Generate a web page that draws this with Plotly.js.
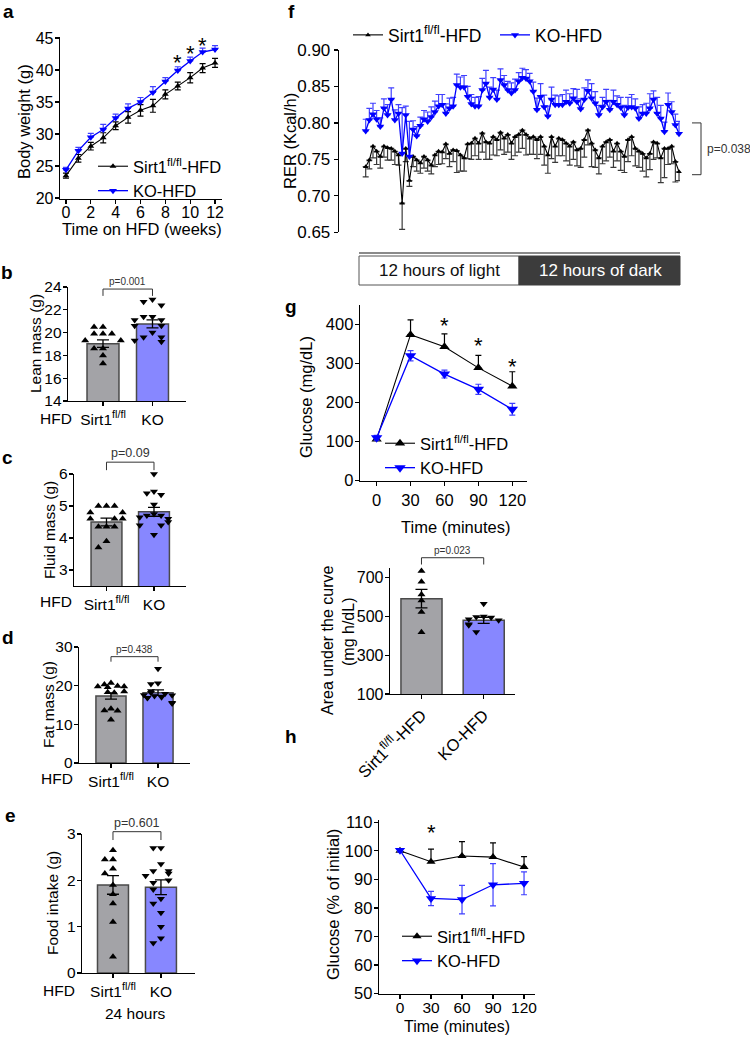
<!DOCTYPE html>
<html><head><meta charset="utf-8">
<script src="https://cdn.plot.ly/plotly-3.0.1.min.js"></script>
<style>html,body{margin:0;padding:0;background:#fff}#chart{width:750px;height:1040px}</style>
</head><body><div id="chart"></div>
<script>
// ================= DATA =================
// a: body weight
const weeks = [0,1,2,3,4,5,6,7,8,9,10,11,12];
const bwSirt1 = [23.5,26.2,28.1,29.4,31.3,32.6,33.7,34.4,36.2,37.5,38.8,40.3,41.1];
const bwSirt1Err = [0.4,0.6,0.6,0.8,0.6,0.9,0.9,1.0,0.7,0.6,0.8,0.7,0.7];
const bwKO = [24.4,27.4,29.5,30.7,32.5,34.0,35.0,36.5,38.2,39.9,41.4,42.8,43.2];
const bwKOErr = [0.4,0.5,0.6,0.8,0.6,0.7,0.7,0.9,0.6,0.6,0.6,0.6,0.6];
const bwStarWeeks = [9,10,11];
const bwStarY = [41.6,43.0,44.3];

// b: lean mass
const leanMean = [19.03,20.76];
const leanSem = [0.33,0.35];
const leanSirt1 = [20.5,20.5,19.9,19.9,19.9,19.3,19.3,18.6,18.6,18.0,17.3];
const leanKO = [22.9,22.7,22.4,21.4,21.4,21.1,21.1,20.6,20.6,20.0,19.6,19.6,19.2,19.3];

// c: fluid mass
const fluidMean = [4.5,4.82];
const fluidSem = [0.12,0.14];
const fluidSirt1 = [5.0,5.0,5.0,4.8,4.8,4.6,4.6,4.6,4.35,4.35,4.35,3.9,3.7];
const fluidKO = [6.0,5.45,5.4,5.35,5.05,4.75,4.7,4.7,4.65,4.6,4.5,4.4,4.4,4.1];

// d: fat mass
const fatMean = [17.3,18.2];
const fatSem = [0.8,0.7];
const fatSirt1 = [20.7,20.3,19.9,19.8,19.8,19.6,18.5,18.3,18.2,14.0,13.6,13.5,11.2];
const fatKO = [24.4,20.6,20.4,18.6,18.2,17.9,17.6,17.5,17.3,17.0,16.9,16.8,15.6,15.4];

// e: food intake
const foodMean = [1.9,1.85];
const foodSem = [0.2,0.16];
const foodSirt1 = [2.65,2.45,2.45,2.25,2.15,1.9,1.7,1.5,1.1,0.35];
const foodKO = [2.7,2.7,2.35,2.2,2.2,2.15,2.1,2.0,1.95,1.8,1.6,1.5,1.3,1.0,0.75,0.65];

const groupTicks = ['Sirt1<sup>fl/fl</sup>','KO'];

// f: RER over 24 h
const rerKO = [0.789,0.804,0.812,0.805,0.795,0.820,0.811,0.832,0.804,0.813,
  0.758,0.811,0.754,0.791,0.782,0.796,0.805,0.802,0.808,0.815,
  0.823,0.825,0.813,0.820,0.823,0.852,0.849,0.849,0.836,0.826,
  0.823,0.823,0.845,0.854,0.835,0.846,0.832,0.859,
  0.852,0.845,0.841,0.845,0.857,0.862,0.861,0.857,0.843,0.818,
  0.836,0.822,0.809,0.832,0.825,0.825,0.825,0.829,0.827,0.834,
  0.829,0.819,0.832,0.844,0.834,0.827,0.811,0.822,0.829,0.818,
  0.829,0.825,0.821,0.811,0.821,0.822,0.820,0.806,0.813,0.813,
  0.820,0.832,0.813,0.806,0.788,0.825,0.815,0.797,0.785];
const rerKOErr = [0.016,0.016,0.015,0.012,0.012,0.013,0.014,0.016,0.014,0.012,
  0.063,0.012,0.048,0.012,0.013,0.012,0.012,0.013,0.014,0.015,
  0.016,0.014,0.013,0.014,0.012,0.015,0.014,0.016,0.014,0.013,
  0.012,0.013,0.016,0.018,0.014,0.016,0.013,0.015,
  0.013,0.012,0.014,0.015,0.012,0.013,0.012,0.011,0.013,0.016,
  0.018,0.016,0.014,0.017,0.013,0.012,0.014,0.016,0.013,0.013,
  0.017,0.014,0.016,0.015,0.020,0.016,0.013,0.013,0.017,0.013,
  0.016,0.012,0.014,0.013,0.014,0.017,0.013,0.016,0.012,0.014,
  0.020,0.012,0.022,0.018,0.013,0.016,0.014,0.015,0.017];
const rerSirt1 = [0.740,0.749,0.768,0.761,0.754,0.768,0.766,0.765,0.761,0.756,
  0.690,0.765,0.721,0.754,0.749,0.745,0.754,0.749,0.742,0.756,
  0.761,0.760,0.771,0.758,0.763,0.762,0.756,0.752,0.771,0.772,
  0.779,0.772,0.786,0.774,0.772,0.781,0.777,0.787,
  0.779,0.784,0.772,0.781,0.784,0.790,0.784,0.779,0.781,0.777,
  0.781,0.768,0.756,0.781,0.768,0.779,0.777,0.772,0.768,0.774,
  0.763,0.765,0.777,0.790,0.772,0.763,0.752,0.768,0.774,0.777,
  0.761,0.772,0.761,0.754,0.777,0.781,0.765,0.761,0.758,0.752,
  0.758,0.774,0.772,0.752,0.765,0.765,0.768,0.747,0.733];
const rerSirt1Err = [0.014,0.012,0.016,0.018,0.016,0.015,0.017,0.016,0.018,0.014,
  0.036,0.018,0.008,0.014,0.015,0.014,0.016,0.015,0.012,0.016,
  0.018,0.016,0.020,0.018,0.016,0.030,0.022,0.018,0.020,0.022,
  0.024,0.022,0.026,0.024,0.022,0.025,0.022,0.024,
  0.022,0.024,0.022,0.026,0.024,0.025,0.028,0.022,0.024,0.026,
  0.024,0.026,0.025,0.030,0.022,0.024,0.022,0.024,0.026,0.024,
  0.022,0.026,0.024,0.020,0.032,0.024,0.022,0.024,0.026,0.024,
  0.022,0.024,0.026,0.022,0.030,0.026,0.024,0.022,0.024,0.026,
  0.022,0.024,0.020,0.034,0.040,0.022,0.024,0.028,0.012];
const rerSample = rerKO.map((_, i) => i);

// g: glucose tolerance test
const gttTime = [0,30,60,90,120];
const gttSirt1 = [106,374,343,289,242];
const gttSirt1Err = [5,38,33,32,37];
const gttKO = [110,320,273,234,183];
const gttKOErr = [6,13,10,13,15];
const gttStarTime = [60,90,120];
const gttStarY = [404,354,301];

// g (lower): area under the curve
const aucMean = [592,480];
const aucSem = [48,16];
const aucSirt1 = [734,679,613,582,523,418];
const aucKO = [565,500,497,495,485,480,460,455,420];
const aucTicks = ['Sirt1<sup>fl/fl</sup>-HFD','KO-HFD'];

// h: insulin tolerance test
const ittTime = [0,30,60,90,120];
const ittSirt1 = [100,96.2,98.2,97.8,94.3];
const ittSirt1Err = [0.5,4.4,5.0,5.0,3.7];
const ittKO = [100.2,83.3,82.9,88.1,88.6];
const ittKOErr = [0.6,2.5,5.0,7.4,4.0];
const ittStarTime = [30];
const ittStarY = [107.6];

const nameSirt1 = 'Sirt1<sup>fl/fl</sup>-HFD';
const nameKO = 'KO-HFD';

// ================= LAYOUT GEOMETRY (pixels) =================
const W = 750, H = 1040;
const FONT = 'Arial, "Liberation Sans", Helvetica, sans-serif';
const BLUE = '#0000ff', BLUE_ERR = '#4040ff', GREY_BAR = '#a3a3a7', KO_BAR = '#8787ff';
const AX = {
  a:  {id:['x','y'],   px:[60,222],  xr:[-0.48,12.56], py:[37,199],   yr:[19.85,45.15]},
  b:  {id:['x2','y2'], px:[68,186],  xr:[-0.707,1.677], py:[287,401], yr:[14,24]},
  c:  {id:['x3','y3'], px:[74,186],  xr:[-0.684,1.674], py:[474,586], yr:[2.5,6]},
  d:  {id:['x4','y4'], px:[79,190],  xr:[-0.68,1.68],  py:[647,763],  yr:[0,30]},
  e:  {id:['x5','y5'], px:[82,195],  xr:[-0.646,1.71], py:[834,973],  yr:[0,3]},
  f:  {id:['x6','y6'], px:[339,680], xr:[-7.33,86.27], py:[50,232.3], yr:[0.65,0.90]},
  g:  {id:['x7','y7'], px:[360,527], xr:[-14.7,133],   py:[305,480.7],yr:[0,450]},
  g2: {id:['x8','y8'], px:[390,515], xr:[-0.506,1.503],py:[568,694],  yr:[100,750]},
  h:  {id:['x9','y9'], px:[379,535], xr:[-20.3,130.6], py:[820,993.5],yr:[50,110.8]}
};
const PXx = p => p / W, PYy = p => 1 - p / H;
function xPaper(p, v){ const a = AX[p]; return PXx(a.px[0] + (v - a.xr[0]) / (a.xr[1] - a.xr[0]) * (a.px[1] - a.px[0])); }
function yPaper(p, v){ const a = AX[p]; return PYy(a.py[0] + (a.yr[1] - v) / (a.yr[1] - a.yr[0]) * (a.py[1] - a.py[0])); }
function axKey(id){ return (id[0] === 'x' ? 'xaxis' : 'yaxis') + id.slice(1); }

function baseAxis(extra){
  return Object.assign({showline:true, linecolor:'#000', linewidth:1.3, ticks:'outside', ticklen:4,
    tickwidth:1.3, tickcolor:'#000', showgrid:false, zeroline:false, fixedrange:true,
    tickfont:{family:FONT, size:15, color:'#000'}}, extra);
}

const layout = {
  width:W, height:H, margin:{l:0,r:0,t:0,b:0}, paper_bgcolor:'#fff', plot_bgcolor:'rgba(0,0,0,0)',
  font:{family:FONT, color:'#000'}, showlegend:true, shapes:[], annotations:[]
};

function setAxes(p, xextra, yextra){
  const a = AX[p];
  layout[axKey(a.id[0])] = baseAxis(Object.assign({domain:[PXx(a.px[0]), PXx(a.px[1])], range:a.xr, anchor:a.id[1]}, xextra));
  layout[axKey(a.id[1])] = baseAxis(Object.assign({domain:[PYy(a.py[1]), PYy(a.py[0])], range:a.yr, anchor:a.id[0], ticklabelstandoff:-2}, yextra));
}
setAxes('a', {tickvals:[0,2,4,6,8,10,12], tickfont:{family:FONT,size:16}, ticklabelstandoff:-6}, {tickvals:[20,25,30,35,40,45], tickfont:{family:FONT,size:16}});
setAxes('b', {tickvals:[0,1], ticktext:groupTicks, tickfont:{family:FONT,size:15.5}}, {tickvals:[14,16,18,20,22,24], tickfont:{family:FONT,size:15.5}});
setAxes('c', {tickvals:[0,1], ticktext:groupTicks, tickfont:{family:FONT,size:15.5}}, {tickvals:[3,4,5,6], tickfont:{family:FONT,size:15.5}});
setAxes('d', {tickvals:[0,1], ticktext:groupTicks, tickfont:{family:FONT,size:15.5}}, {tickvals:[0,10,20,30], tickfont:{family:FONT,size:15.5}});
setAxes('e', {tickvals:[0,1], ticktext:groupTicks, tickfont:{family:FONT,size:15.5}}, {tickvals:[0,1,2,3], tickfont:{family:FONT,size:15.5}});
setAxes('f', {visible:false}, {tickvals:[0.65,0.70,0.75,0.80,0.85,0.90], tickformat:'.2f', tickfont:{family:FONT,size:17}, ticklabelstandoff:0});
setAxes('g', {tickvals:[0,30,60,90,120], tickfont:{family:FONT,size:16.5}}, {tickvals:[0,100,200,300,400], tickfont:{family:FONT,size:16.5}});
setAxes('g2', {tickvals:[0,1], ticktext:aucTicks, tickangle:-45, tickfont:{family:FONT,size:16.5}}, {tickvals:[100,300,500,700], tickfont:{family:FONT,size:16}});
setAxes('h', {tickvals:[0,30,60,90,120], tickfont:{family:FONT,size:15.5}, ticklabelstandoff:-4}, {tickvals:[50,60,70,80,90,100,110], tickfont:{family:FONT,size:16.5}});

const traces = [];

// ---------- line panels ----------
function linePanel(p, xs, s1, e1, s1Mode, k, ek, kMode, legendId, sizes){
  const [xa, ya] = AX[p].id;
  const errS = s1Mode === 'both' ? {type:'data', array:e1, visible:true, color:'#000', thickness:1.2, width:3}
             : s1Mode === 'down' ? {type:'data', symmetric:false, array:e1.map(()=>0), arrayminus:e1, visible:true, color:'#3a3a3a', thickness:1.2, width:3}
             : {type:'data', symmetric:false, array:e1, arrayminus:e1.map(()=>0), visible:true, color:'#000', thickness:1.2, width:3};
  const errK = kMode === 'both' ? {type:'data', array:ek, visible:true, color:BLUE_ERR, thickness:1.2, width:3}
             : {type:'data', symmetric:false, array:ek, arrayminus:ek.map(()=>0), visible:true, color:BLUE_ERR, thickness:1.2, width:3};
  traces.push({type:'scatter', mode:'lines+markers', name:nameSirt1, x:xs, y:s1, xaxis:xa, yaxis:ya,
    line:{color:'#000', width:1.1}, marker:{symbol:'triangle-up', size:sizes[0], color:'#000'},
    error_y:errS, cliponaxis:false, legend:legendId, legendgroup:p+'s', hoverinfo:'skip'});
  traces.push({type:'scatter', mode:'lines+markers', name:nameKO, x:xs, y:k, xaxis:xa, yaxis:ya,
    line:{color:BLUE, width:1.3}, marker:{symbol:'triangle-down', size:sizes[1], color:BLUE},
    error_y:errK, cliponaxis:false, legend:legendId, legendgroup:p+'k', hoverinfo:'skip'});
}
linePanel('a', weeks, bwSirt1, bwSirt1Err, 'both', bwKO, bwKOErr, 'up', 'legend', [6,7]);
linePanel('f', rerSample, rerSirt1, rerSirt1Err, 'down', rerKO, rerKOErr, 'up', 'legend2', [5,7]);
linePanel('g', gttTime, gttSirt1, gttSirt1Err, 'up', gttKO, gttKOErr, 'both', 'legend3', [9,10]);
linePanel('h', ittTime, ittSirt1, ittSirt1Err, 'up', ittKO, ittKOErr, 'both', 'legend4', [8,9]);

// ---------- bar + dot panels ----------
function swarm(vals, center, step, thresh){
  const placed = [], out = [];
  const pattern = [0,-1,1,-2,2,-0.5,0.5,-1.5,1.5];
  vals.forEach(v => {
    const near = placed.filter(q => Math.abs(q - v) < thresh).length;
    out.push(center + pattern[near % pattern.length] * step);
    placed.push(v);
  });
  return out;
}
function barPanel(p, means, sems, ptsS, ptsK, bw, stepS, stepK, thresh){
  const [xa, ya] = AX[p].id;
  traces.push({type:'bar', x:[0,1], y:means, width:[bw,bw], xaxis:xa, yaxis:ya, showlegend:false, hoverinfo:'skip',
    marker:{color:[GREY_BAR, KO_BAR], line:{color:'#4a4a4a', width:1.5}},
    error_y:{type:'data', array:sems, visible:true, color:'#000', thickness:1.3, width:6}});
  traces.push({type:'scatter', mode:'markers', x:swarm(ptsS, 0, stepS, thresh), y:ptsS, xaxis:xa, yaxis:ya,
    showlegend:false, hoverinfo:'skip', cliponaxis:false, marker:{symbol:'triangle-up', size:7, color:'#000'}});
  traces.push({type:'scatter', mode:'markers', x:swarm(ptsK, 1, stepK, thresh), y:ptsK, xaxis:xa, yaxis:ya,
    showlegend:false, hoverinfo:'skip', cliponaxis:false, marker:{symbol:'triangle-down', size:7, color:'#000'}});
}
barPanel('b', leanMean, leanSem, leanSirt1, leanKO, 0.646, 0.18, 0.18, 0.6);
barPanel('c', fluidMean, fluidSem, fluidSirt1, fluidKO, 0.65, 0.17, 0.15, 0.22);
barPanel('d', fatMean, fatSem, fatSirt1, fatKO, 0.64, 0.14, 0.15, 1.8);
barPanel('e', foodMean, foodSem, foodSirt1, foodKO, 0.646, 0.17, 0.16, 0.15);
barPanel('g2', aucMean, aucSem, aucSirt1, aucKO, 0.66, 0, 0.12, 36);

// ---------- legends ----------
const legBase = {bgcolor:'rgba(0,0,0,0)', borderwidth:0, itemwidth:30, xanchor:'left', yanchor:'top', traceorder:'normal'};
layout.legend  = Object.assign({}, legBase, {x:PXx(93),  y:PYy(149), font:{family:FONT,size:16.5}, tracegroupgap:0});
layout.legend2 = Object.assign({}, legBase, {x:PXx(348), y:PYy(17),  orientation:'h', entrywidth:102, font:{family:FONT,size:17.5}});
layout.legend3 = Object.assign({}, legBase, {x:PXx(380), y:PYy(426), font:{family:FONT,size:16.5}, tracegroupgap:0});
layout.legend4 = Object.assign({}, legBase, {x:PXx(397), y:PYy(919), font:{family:FONT,size:16.5}, tracegroupgap:13});

// ---------- annotations ----------
function ann(text, xp, yp, opts){
  layout.annotations.push(Object.assign({text:text, x:PXx(xp), y:PYy(yp), xref:'paper', yref:'paper',
    showarrow:false, xanchor:'center', yanchor:'middle', font:{family:FONT, size:16, color:'#000'}}, opts||{}));
}
// panel letters
[['a',8,12],['b',7,273],['c',7,457],['d',8,637],['e',10,815],['f',291,12],['g',291,306],['h',291,736]]
  .forEach(([t,x,y]) => ann('<b>'+t+'</b>', x, y, {font:{family:FONT,size:19,color:'#000'}}));
// axis titles
ann('Body weight (g)', 24, 122, {textangle:-90, font:{family:FONT,size:16.5}});
ann('Time on HFD (weeks)', 142, 229, {font:{family:FONT,size:16.5}});
ann('Lean mass (g)', 36, 344, {textangle:-90, font:{family:FONT,size:15.5}});
ann('Fluid mass (g)', 49, 530, {textangle:-90, font:{family:FONT,size:15.5}});
ann('Fat mass (g)', 48, 705, {textangle:-90, font:{family:FONT,size:15.5}});
ann('Food intake (g)', 52, 903, {textangle:-90, font:{family:FONT,size:15.5}});
ann('HFD', 56, 418, {font:{family:FONT,size:15.5}});
ann('HFD', 56, 601, {font:{family:FONT,size:15.5}});
ann('HFD', 57, 778, {font:{family:FONT,size:15.5}});
ann('HFD', 59, 990, {font:{family:FONT,size:15.5}});
ann('24 hours', 135, 1013, {font:{family:FONT,size:15.5}});
ann('RER (Kcal/h)', 290, 141, {textangle:-90, font:{family:FONT,size:16.5}});
ann('Glucose (mg/dL)', 306, 397, {textangle:-90, font:{family:FONT,size:16.5}});
ann('Time (minutes)', 455, 527, {font:{family:FONT,size:16.5}});
ann('Area under the curve', 327, 640, {textangle:-90, font:{family:FONT,size:16}});
ann('(mg h/dL)', 348, 632, {textangle:-90, font:{family:FONT,size:16}});
ann('Glucose (% of initial)', 333, 905, {textangle:-90, font:{family:FONT,size:16.5}});
ann('Time (minutes)', 457, 1026);

// asterisks from data
function stars(p, xs, ys){
  const [xa, ya] = AX[p].id;
  xs.forEach((x, i) => layout.annotations.push({text:'*', x:x, y:ys[i], xref:xa, yref:ya, showarrow:false,
    yanchor:'middle', font:{family:FONT, size:22, color:'#000'}, yshift:-3}));
}
stars('a', bwStarWeeks, bwStarY);
stars('g', gttStarTime, gttStarY);
stars('h', ittStarTime, ittStarY);

// significance brackets (y in data units of the panel)
function bracket(p, yTop, drop, text, size){
  const x0 = xPaper(p, 0), x1 = xPaper(p, 1), yt = yPaper(p, yTop), yb = yPaper(p, yTop - drop);
  layout.shapes.push({type:'path', xref:'paper', yref:'paper',
    path:`M${x0},${yb} L${x0},${yt} L${x1},${yt} L${x1},${yb}`, line:{color:'#333', width:1}});
  layout.annotations.push({text:text, x:(x0+x1)/2, y:yt, xref:'paper', yref:'paper', showarrow:false,
    xanchor:'center', yanchor:'bottom', yshift:0, font:{family:FONT, size:size, color:'#333'}});
}
bracket('b', 23.82, 0.6, 'p=0.001', 10);
bracket('c', 6.37, 0.25, 'p=0.09', 12.5);
bracket('d', 27.5, 1.3, 'p=0.438', 10);
bracket('e', 3.05, 0.18, 'p=0.601', 12.5);
bracket('g2', 803, 35, 'p=0.023', 10);

// RER side bracket (between series)
(function(){
  const yt = yPaper('f', 0.80), yb = yPaper('f', 0.729), xr = PXx(701), xl = PXx(692);
  layout.shapes.push({type:'path', xref:'paper', yref:'paper', path:`M${xl},${yt} L${xr},${yt} L${xr},${yb} L${xl},${yb}`,
    line:{color:'#333', width:1}});
  layout.annotations.push({text:'p=0.038', x:PXx(705), y:(yt+yb)/2, xref:'paper', yref:'paper', showarrow:false,
    xanchor:'left', yanchor:'middle', font:{family:FONT, size:12, color:'#333'}});
})();

// light / dark bar under RER
layout.shapes.push({type:'line', xref:'paper', yref:'paper', x0:PXx(359), x1:PXx(680), y0:PYy(253), y1:PYy(253), line:{color:'#8a8a8a', width:2}});
layout.shapes.push({type:'rect', xref:'paper', yref:'paper', x0:PXx(359), x1:PXx(519), y0:PYy(285), y1:PYy(256), fillcolor:'#fff', line:{color:'#555', width:1}});
layout.shapes.push({type:'rect', xref:'paper', yref:'paper', x0:PXx(519), x1:PXx(680), y0:PYy(285), y1:PYy(256), fillcolor:'#3c3c3c', line:{color:'#3c3c3c', width:1}});
ann('12 hours of light', 439, 271, {font:{family:FONT,size:17,color:'#111'}});
ann('12 hours of dark', 600, 271, {font:{family:FONT,size:17,color:'#fff'}});

Plotly.newPlot('chart', traces, layout, {staticPlot:true, displayModeBar:false});
</script>
</body></html>
